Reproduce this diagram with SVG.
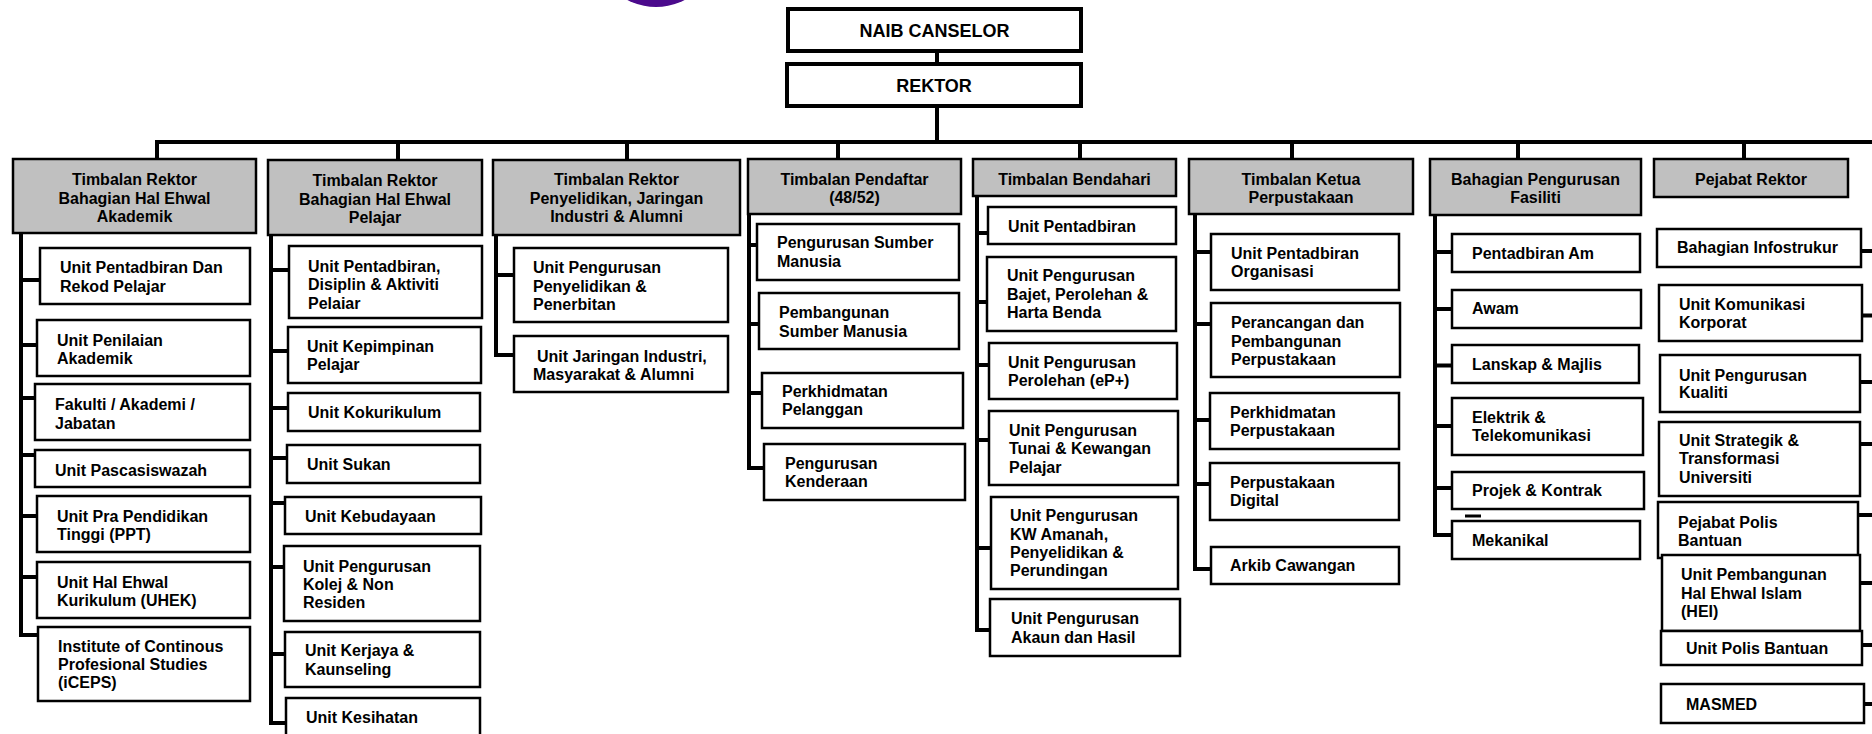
<svg xmlns="http://www.w3.org/2000/svg" width="1872" height="734" viewBox="0 0 1872 734">
<style>
.h{fill:#c0c0c0;stroke:#000;stroke-width:2.5}
.b{fill:#fff;stroke:#000;stroke-width:2.5}
.top{fill:#fff;stroke:#000;stroke-width:4}
text{font-family:"Liberation Sans",Arial,sans-serif;font-weight:bold;font-size:16px;fill:#000}
.c{text-anchor:middle}
.big{font-size:18px}
.ln{stroke:#000;stroke-width:4;fill:none}
</style>
<defs>
<clipPath id="clipDis"><rect x="280" y="240" width="210" height="69"/></clipPath>
</defs>
<rect width="1872" height="734" fill="#fff"/>
<circle cx="656" cy="-55" r="62" fill="#4b0a8c"/>

<g id="connectors">
<path class="ln" d="M937 53V62M937 108V142M155 142H1872"/>
<path class="ln" d="M157 142V158M398 142V159M627 142V159M838 142V158M1080 142V158M1292 142V158M1518 142V158M1744 142V158"/>
<path class="ln" d="M21 234V635H38M21 280H39M21 345H36M21 398H34M21 455H34M21 516H36M21 577H36"/>
<path class="ln" d="M271 236V723H286M271 270H288M271 351H287M271 408H287M271 458H286M271 503H284M271 567H283M271 654H284"/>
<path class="ln" d="M496 236V355H513M496 275H513"/>
<path class="ln" d="M749 215V468H763M749 245H756M749 324H758M749 393H761"/>
<path class="ln" d="M977 197V630H989M977 233H987M977 302H986M977 365H988M977 440H988M977 548H990"/>
<path class="ln" d="M1195 215V569H1210M1195 252H1210M1195 324H1210M1195 420H1209M1195 484H1209"/>
<path class="ln" d="M1435 216V535H1451M1435 252H1451M1435 309H1451M1435 365.5H1451M1435 426H1451M1435 488H1451"/>
<path class="ln" d="M1465 516H1481" style="stroke-width:3"/>
<path class="ln" d="M1862 251H1872M1863 315.5H1872M1861 382H1872M1861 444H1872M1859 515H1872M1861 583H1872M1863 645H1872M1865 704H1872"/>
</g>

<g id="naib-canselor"><rect class="top" x="788" y="9" width="293" height="42"/><text class="c big" x="934.5" y="37">NAIB CANSELOR</text></g>
<g id="rektor"><rect class="top" x="787" y="64" width="294" height="42"/><text class="c big" x="934" y="92">REKTOR</text></g>

<g id="tr-akademik"><rect class="h" x="13" y="159" width="243" height="74"/><text class="c" x="134.5"><tspan x="134.5" y="185">Timbalan Rektor</tspan><tspan x="134.5" y="203.5">Bahagian Hal Ehwal</tspan><tspan x="134.5" y="222">Akademik</tspan></text></g>
<g id="tr-pelajar"><rect class="h" x="268" y="160" width="214" height="75"/><text class="c"><tspan x="375" y="186">Timbalan Rektor</tspan><tspan x="375" y="204.5">Bahagian Hal Ehwal</tspan><tspan x="375" y="223">Pelajar</tspan></text></g>
<g id="tr-penyelidikan"><rect class="h" x="493" y="160" width="247" height="75"/><text class="c"><tspan x="616.5" y="185">Timbalan Rektor</tspan><tspan x="616.5" y="203.5">Penyelidikan, Jaringan</tspan><tspan x="616.5" y="222">Industri &amp; Alumni</tspan></text></g>
<g id="t-pendaftar"><rect class="h" x="748" y="159" width="213" height="55"/><text class="c"><tspan x="854.5" y="185">Timbalan Pendaftar</tspan><tspan x="854.5" y="202.5">(48/52)</tspan></text></g>
<g id="t-bendahari"><rect class="h" x="973" y="159" width="203" height="37"/><text class="c" x="1074.5" y="185">Timbalan Bendahari</text></g>
<g id="t-perpustakaan"><rect class="h" x="1189" y="159" width="224" height="55"/><text class="c"><tspan x="1301" y="185">Timbalan Ketua</tspan><tspan x="1301" y="203">Perpustakaan</tspan></text></g>
<g id="b-fasiliti"><rect class="h" x="1430" y="159" width="211" height="56"/><text class="c"><tspan x="1535.5" y="185">Bahagian Pengurusan</tspan><tspan x="1535.5" y="203">Fasiliti</tspan></text></g>
<g id="p-rektor"><rect class="h" x="1654" y="159" width="194" height="38"/><text class="c" x="1751" y="185">Pejabat Rektor</text></g>

<!-- Akademik children -->
<g id="ak1"><rect class="b" x="40" y="248" width="210" height="56"/><text><tspan x="60" y="273.3">Unit Pentadbiran Dan</tspan><tspan x="60" y="291.5">Rekod Pelajar</tspan></text></g>
<g id="ak2"><rect class="b" x="37" y="320" width="213" height="56"/><text><tspan x="57" y="346">Unit Penilaian</tspan><tspan x="57" y="364">Akademik</tspan></text></g>
<g id="ak3"><rect class="b" x="35" y="384" width="215" height="56"/><text><tspan x="55" y="409.5">Fakulti / Akademi /</tspan><tspan x="55" y="428.5">Jabatan</tspan></text></g>
<g id="ak4"><rect class="b" x="35" y="450" width="215" height="37"/><text x="55" y="475.5">Unit Pascasiswazah</text></g>
<g id="ak5"><rect class="b" x="37" y="496" width="213" height="56"/><text><tspan x="57" y="521.7">Unit Pra Pendidikan</tspan><tspan x="57" y="539.5">Tinggi (PPT)</tspan></text></g>
<g id="ak6"><rect class="b" x="37" y="562" width="213" height="56"/><text><tspan x="57" y="587.5">Unit Hal Ehwal</tspan><tspan x="57" y="605.5">Kurikulum (UHEK)</tspan></text></g>
<g id="ak7"><rect class="b" x="38" y="627" width="212" height="74"/><text><tspan x="58" y="651.7">Institute of Continous</tspan><tspan x="58" y="670">Profesional Studies</tspan><tspan x="58" y="688.3">(iCEPS)</tspan></text></g>

<!-- Pelajar children -->
<g id="pl1"><rect class="b" x="289" y="246" width="193" height="72"/><text clip-path="url(#clipDis)"><tspan x="308" y="271.7">Unit Pentadbiran,</tspan><tspan x="308" y="290">Disiplin &amp; Aktiviti</tspan><tspan x="308" y="308.5">Pelajar</tspan></text></g>
<g id="pl2"><rect class="b" x="288" y="327" width="193" height="56"/><text><tspan x="307" y="352.3">Unit Kepimpinan</tspan><tspan x="307" y="370">Pelajar</tspan></text></g>
<g id="pl3"><rect class="b" x="288" y="393" width="192" height="38"/><text x="308" y="418.3">Unit Kokurikulum</text></g>
<g id="pl4"><rect class="b" x="287" y="445" width="193" height="38"/><text x="307" y="470">Unit Sukan</text></g>
<g id="pl5"><rect class="b" x="285" y="497" width="196" height="37"/><text x="305" y="521.7">Unit Kebudayaan</text></g>
<g id="pl6"><rect class="b" x="284" y="546" width="196" height="75"/><text><tspan x="303" y="571.7">Unit Pengurusan</tspan><tspan x="303" y="590">Kolej &amp; Non</tspan><tspan x="303" y="608.3">Residen</tspan></text></g>
<g id="pl7"><rect class="b" x="285" y="632" width="195" height="55"/><text><tspan x="305" y="656">Unit Kerjaya &amp;</tspan><tspan x="305" y="675">Kaunseling</tspan></text></g>
<g id="pl8"><rect class="b" x="286" y="698" width="194" height="50"/><text x="306" y="723.3">Unit Kesihatan</text></g>

<!-- Penyelidikan children -->
<g id="py1"><rect class="b" x="514" y="248" width="214" height="74"/><text><tspan x="533" y="273.3">Unit Pengurusan</tspan><tspan x="533" y="291.7">Penyelidikan &amp;</tspan><tspan x="533" y="310">Penerbitan</tspan></text></g>
<g id="py2"><rect class="b" x="514" y="336" width="214" height="56"/><text><tspan x="537" y="361.7">Unit Jaringan Industri,</tspan><tspan x="533" y="380">Masyarakat &amp; Alumni</tspan></text></g>

<!-- Pendaftar children -->
<g id="pd1"><rect class="b" x="757" y="224" width="202" height="56"/><text><tspan x="777" y="248.3">Pengurusan Sumber</tspan><tspan x="777" y="266.7">Manusia</tspan></text></g>
<g id="pd2"><rect class="b" x="759" y="293" width="200" height="56"/><text><tspan x="779" y="318.3">Pembangunan</tspan><tspan x="779" y="337.3">Sumber Manusia</tspan></text></g>
<g id="pd3"><rect class="b" x="762" y="373" width="201" height="55"/><text><tspan x="782" y="396.7">Perkhidmatan</tspan><tspan x="782" y="415">Pelanggan</tspan></text></g>
<g id="pd4"><rect class="b" x="764" y="444" width="201" height="56"/><text><tspan x="785" y="469.3">Pengurusan</tspan><tspan x="785" y="487.3">Kenderaan</tspan></text></g>

<!-- Bendahari children -->
<g id="bd1"><rect class="b" x="988" y="207" width="188" height="37"/><text x="1008" y="231.7">Unit Pentadbiran</text></g>
<g id="bd2"><rect class="b" x="987" y="257" width="189" height="74"/><text><tspan x="1007" y="281">Unit Pengurusan</tspan><tspan x="1007" y="300">Bajet, Perolehan &amp;</tspan><tspan x="1007" y="318.3">Harta Benda</tspan></text></g>
<g id="bd3"><rect class="b" x="989" y="343" width="188" height="56"/><text><tspan x="1008" y="368.3">Unit Pengurusan</tspan><tspan x="1008" y="386">Perolehan (eP+)</tspan></text></g>
<g id="bd4"><rect class="b" x="989" y="411" width="189" height="74"/><text><tspan x="1009" y="436">Unit Pengurusan</tspan><tspan x="1009" y="454">Tunai &amp; Kewangan</tspan><tspan x="1009" y="472.7">Pelajar</tspan></text></g>
<g id="bd5"><rect class="b" x="991" y="497" width="187" height="92"/><text><tspan x="1010" y="521">Unit Pengurusan</tspan><tspan x="1010" y="540">KW Amanah,</tspan><tspan x="1010" y="557.7">Penyelidikan &amp;</tspan><tspan x="1010" y="576">Perundingan</tspan></text></g>
<g id="bd6"><rect class="b" x="990" y="599" width="190" height="57"/><text><tspan x="1011" y="624.3">Unit Pengurusan</tspan><tspan x="1011" y="642.7">Akaun dan Hasil</tspan></text></g>

<!-- Perpustakaan children -->
<g id="pp1"><rect class="b" x="1211" y="234" width="188" height="56"/><text><tspan x="1231" y="259.3">Unit Pentadbiran</tspan><tspan x="1231" y="276.7">Organisasi</tspan></text></g>
<g id="pp2"><rect class="b" x="1211" y="303" width="189" height="74"/><text><tspan x="1231" y="328.3">Perancangan dan</tspan><tspan x="1231" y="346.7">Pembangunan</tspan><tspan x="1231" y="365">Perpustakaan</tspan></text></g>
<g id="pp3"><rect class="b" x="1210" y="393" width="189" height="56"/><text><tspan x="1230" y="418.3">Perkhidmatan</tspan><tspan x="1230" y="436">Perpustakaan</tspan></text></g>
<g id="pp4"><rect class="b" x="1210" y="463" width="189" height="57"/><text><tspan x="1230" y="488.3">Perpustakaan</tspan><tspan x="1230" y="506">Digital</tspan></text></g>
<g id="pp5"><rect class="b" x="1211" y="547" width="188" height="37"/><text x="1230" y="571">Arkib Cawangan</text></g>

<!-- Fasiliti children -->
<g id="fs1"><rect class="b" x="1452" y="234" width="188" height="38"/><text x="1472" y="259">Pentadbiran Am</text></g>
<g id="fs2"><rect class="b" x="1452" y="290" width="189" height="38"/><text x="1472" y="314">Awam</text></g>
<g id="fs3"><rect class="b" x="1452" y="345" width="187" height="38"/><text x="1472" y="370.3">Lanskap &amp; Majlis</text></g>
<g id="fs4"><rect class="b" x="1452" y="398" width="191" height="57"/><text><tspan x="1472" y="423">Elektrik &amp;</tspan><tspan x="1472" y="441">Telekomunikasi</tspan></text></g>
<g id="fs5"><rect class="b" x="1452" y="472" width="192" height="37"/><text x="1472" y="496.3">Projek &amp; Kontrak</text></g>
<g id="fs6"><rect class="b" x="1452" y="521" width="188" height="38"/><text x="1472" y="546.4">Mekanikal</text></g>

<!-- Pejabat Rektor children -->
<g id="pr1"><rect class="b" x="1657" y="229" width="204" height="38"/><text x="1677" y="253.4">Bahagian Infostrukur</text></g>
<g id="pr2"><rect class="b" x="1659" y="285" width="203" height="56"/><text><tspan x="1679" y="310">Unit Komunikasi</tspan><tspan x="1679" y="328.2">Korporat</tspan></text></g>
<g id="pr3"><rect class="b" x="1660" y="355" width="200" height="57"/><text><tspan x="1679" y="380.6">Unit Pengurusan</tspan><tspan x="1679" y="398.2">Kualiti</tspan></text></g>
<g id="pr4"><rect class="b" x="1659" y="422" width="201" height="74"/><text><tspan x="1679" y="446">Unit Strategik &amp;</tspan><tspan x="1679" y="463.9">Transformasi</tspan><tspan x="1679" y="482.7">Universiti</tspan></text></g>
<g id="pr5"><rect class="b" x="1658" y="502" width="200" height="56"/><text><tspan x="1678" y="527.7">Pejabat Polis</tspan><tspan x="1678" y="545.7">Bantuan</tspan></text></g>
<g id="pr6"><rect class="b" x="1662" y="555" width="198" height="76"/><text><tspan x="1681" y="580.4">Unit Pembangunan</tspan><tspan x="1681" y="599.2">Hal Ehwal Islam</tspan><tspan x="1681" y="617.2">(HEI)</tspan></text></g>
<g id="pr7"><rect class="b" x="1661" y="631" width="201" height="34"/><text x="1686" y="653.7">Unit Polis Bantuan</text></g>
<g id="pr8"><rect class="b" x="1661" y="684" width="203" height="39"/><text x="1686" y="710.2">MASMED</text></g>
</svg>
